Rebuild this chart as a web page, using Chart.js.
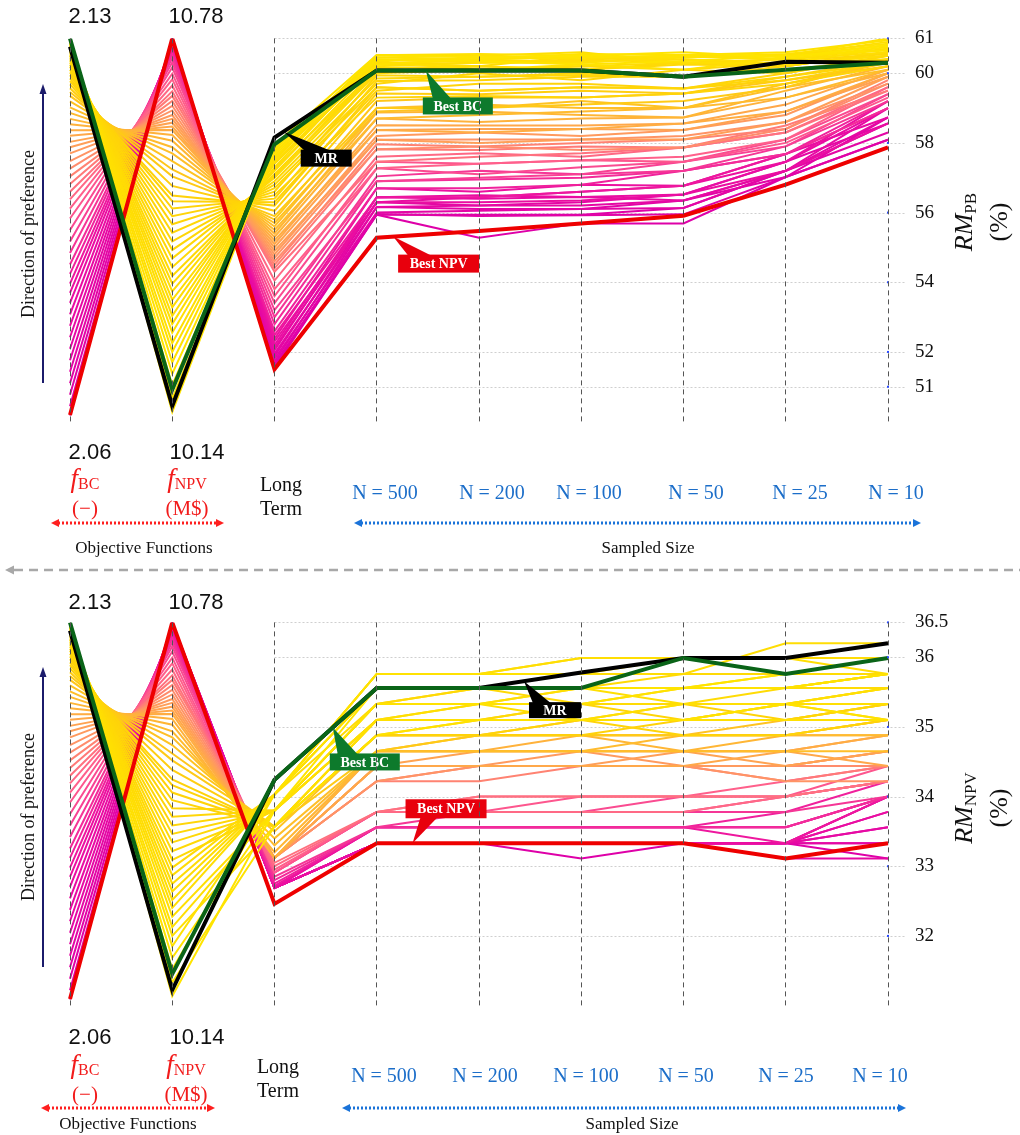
<!DOCTYPE html>
<html>
<head>
<meta charset="utf-8">
<script src="https://cdn.jsdelivr.net/npm/chart.js@4.4.1/dist/chart.umd.min.js"></script>
<style>
  body { margin: 0; background: #fff; }
  #page { position: relative; width: 1020px; height: 1135px; overflow: hidden; font-family: "Liberation Serif", "Times New Roman", serif; }
  .panel { position: absolute; left: 0; width: 1020px; height: 460px; }
  .t { position: absolute; white-space: nowrap; }
  .num { font-family: "Liberation Sans", Arial, sans-serif; font-size: 22px; color: #111; transform: translate(-50%, -50%); }
  .obj { color: #f21b1b; font-size: 21px; text-align: center; transform: translateX(-50%); line-height: 25px; }
  .obj i { font-size: 27px; }
  .obj sub { font-size: 16px; vertical-align: -2px; }
  .lt { font-size: 20px; text-align: center; transform: translateX(-50%); line-height: 24px; color: #111; }
  .nlab { color: #1c6ec9; font-size: 20px; transform: translate(-50%, -50%); }
  .grp { font-size: 17px; color: #111; transform: translate(-50%, -50%); }
  .dir { font-size: 18px; color: #111; transform: translate(-50%, -50%) rotate(-90deg); }
  .ytitle { width: 140px; text-align: center; line-height: 28px; font-size: 26px; color: #111; transform: translate(-50%, -50%) rotate(-90deg); }
  .ytitle sub { font-size: 17px; vertical-align: -4px; }
</style>
</head>
<body>
<div id="page">
  <div class="panel" style="top:0"><canvas id="pbChart" width="1020" height="460"></canvas></div>
  <div class="panel" style="top:584px"><canvas id="npvChart" width="1020" height="460"></canvas></div>

  <svg class="t" style="left:0;top:0" width="1020" height="1135">
    <!-- direction of preference arrows -->
    <line x1="43" y1="383" x2="43" y2="92" stroke="#1b1b6b" stroke-width="2"/>
    <polygon points="43,84 39.5,94 46.5,94" fill="#1b1b6b"/>
    <line x1="43" y1="967" x2="43" y2="675" stroke="#1b1b6b" stroke-width="2"/>
    <polygon points="43,667 39.5,677 46.5,677" fill="#1b1b6b"/>
    <!-- group arrows, top -->
    <line x1="58" y1="523" x2="217" y2="523" stroke="#ff1f1f" stroke-width="3" stroke-dasharray="2 2"/>
    <polygon points="51,523 59,519 59,527" fill="#ff1f1f"/>
    <polygon points="224,523 216,519 216,527" fill="#ff1f1f"/>
    <line x1="361" y1="523" x2="914" y2="523" stroke="#1a73d9" stroke-width="3" stroke-dasharray="2 2"/>
    <polygon points="354,523 362,519 362,527" fill="#1a73d9"/>
    <polygon points="921,523 913,519 913,527" fill="#1a73d9"/>
    <!-- group arrows, bottom -->
    <line x1="48" y1="1108" x2="208" y2="1108" stroke="#ff1f1f" stroke-width="3" stroke-dasharray="2 2"/>
    <polygon points="41,1108 49,1104 49,1112" fill="#ff1f1f"/>
    <polygon points="215,1108 207,1104 207,1112" fill="#ff1f1f"/>
    <line x1="349" y1="1108" x2="899" y2="1108" stroke="#1a73d9" stroke-width="3" stroke-dasharray="2 2"/>
    <polygon points="342,1108 350,1104 350,1112" fill="#1a73d9"/>
    <polygon points="906,1108 898,1104 898,1112" fill="#1a73d9"/>
    <!-- separator -->
    <line x1="14" y1="570" x2="1020" y2="570" stroke="#a8a8a8" stroke-width="2.5" stroke-dasharray="9 6"/>
    <polygon points="5,570 14,565.5 14,574.5" fill="#a8a8a8"/>
  </svg>

  <!-- top panel texts -->
  <div class="t num" style="left:90px;top:16px">2.13</div>
  <div class="t num" style="left:196px;top:16px">10.78</div>
  <div class="t num" style="left:90px;top:452px">2.06</div>
  <div class="t num" style="left:197px;top:452px">10.14</div>
  <div class="t obj" style="left:85px;top:466px"><i>f</i><sub>BC</sub><br>(&minus;)</div>
  <div class="t obj" style="left:187px;top:466px"><i>f</i><sub>NPV</sub><br>(M$)</div>
  <div class="t lt" style="left:281px;top:472px">Long<br>Term</div>
  <div class="t nlab" style="left:385px;top:492px">N = 500</div>
  <div class="t nlab" style="left:492px;top:492px">N = 200</div>
  <div class="t nlab" style="left:589px;top:492px">N = 100</div>
  <div class="t nlab" style="left:696px;top:492px">N = 50</div>
  <div class="t nlab" style="left:800px;top:492px">N = 25</div>
  <div class="t nlab" style="left:896px;top:492px">N = 10</div>
  <div class="t grp" style="left:144px;top:548px">Objective Functions</div>
  <div class="t grp" style="left:648px;top:548px">Sampled Size</div>
  <div class="t dir" style="left:28px;top:234px">Direction of preference</div>
  <div class="t ytitle" style="left:981px;top:222px"><i>RM</i><sub>PB</sub><br>(%)</div>

  <!-- bottom panel texts -->
  <div class="t num" style="left:90px;top:602px">2.13</div>
  <div class="t num" style="left:196px;top:602px">10.78</div>
  <div class="t num" style="left:90px;top:1037px">2.06</div>
  <div class="t num" style="left:197px;top:1037px">10.14</div>
  <div class="t obj" style="left:85px;top:1052px"><i>f</i><sub>BC</sub><br>(&minus;)</div>
  <div class="t obj" style="left:186px;top:1052px"><i>f</i><sub>NPV</sub><br>(M$)</div>
  <div class="t lt" style="left:278px;top:1054px">Long<br>Term</div>
  <div class="t nlab" style="left:384px;top:1075px">N = 500</div>
  <div class="t nlab" style="left:485px;top:1075px">N = 200</div>
  <div class="t nlab" style="left:586px;top:1075px">N = 100</div>
  <div class="t nlab" style="left:686px;top:1075px">N = 50</div>
  <div class="t nlab" style="left:786px;top:1075px">N = 25</div>
  <div class="t nlab" style="left:880px;top:1075px">N = 10</div>
  <div class="t grp" style="left:128px;top:1124px">Objective Functions</div>
  <div class="t grp" style="left:632px;top:1124px">Sampled Size</div>
  <div class="t dir" style="left:28px;top:817px">Direction of preference</div>
  <div class="t ytitle" style="left:981px;top:808px"><i>RM</i><sub>NPV</sub><br>(%)</div>
</div>

<script>
// parallel axes
const axisNames = ['f_BC', 'f_NPV', 'Long Term', 'N = 500', 'N = 200', 'N = 100', 'N = 50', 'N = 25', 'N = 10'];
const fbcRange = [2.06, 2.13];
const npvRange = [10.14, 10.78];
const pbRange = [50, 61];
const pbTicks = [51, 52, 54, 56, 58, 60, 61];
const rmNpvRange = [31, 36.5];
const rmNpvTicks = [32, 33, 34, 35, 36, 36.5];

// Pareto solutions (same set in both panels), ordered magenta -> yellow
const solutionFbc = [
  2.0611, 2.0628, 2.0649, 2.0670, 2.0691, 2.0712, 2.0733, 2.0754, 2.0775, 2.0796, 2.0817, 2.0835, 2.0852, 2.0870,
  2.0887, 2.0908, 2.0929, 2.0950, 2.0971, 2.0989, 2.1006, 2.1020,
  2.1034, 2.1048, 2.1062, 2.1076, 2.1090, 2.1101, 2.1111, 2.1122, 2.1132, 2.1143, 2.1153, 2.1164, 2.1174, 2.1185, 2.1195, 2.1202, 2.1209, 2.1216,
  2.1222, 2.1227, 2.1233, 2.1238, 2.1243, 2.1248, 2.1252, 2.1256, 2.1260, 2.1264, 2.1268, 2.1271,
  2.1275, 2.1278, 2.1280, 2.1283, 2.1286, 2.1289, 2.1291, 2.1293, 2.1295, 2.1297, 2.1298, 2.1299
];
const solutionNpv = [
  10.7797, 10.7794, 10.7790, 10.7787, 10.7774, 10.7762, 10.7749, 10.7730, 10.7710, 10.7691, 10.7666, 10.7640, 10.7608, 10.7576,
  10.7531, 10.7467, 10.7397, 10.7314, 10.7211, 10.7115, 10.7013, 10.6917,
  10.6840, 10.6757, 10.6674, 10.6597, 10.6520, 10.6456, 10.6392, 10.6328, 10.6270, 10.6187, 10.6091, 10.5982, 10.5880, 10.5752, 10.5611, 10.5496, 10.5336, 10.5176,
  10.5080, 10.4958, 10.4830, 10.4696, 10.4555, 10.4408, 10.4267, 10.4126, 10.3979, 10.3832, 10.3704, 10.3576,
  10.3435, 10.3307, 10.3166, 10.3032, 10.2885, 10.2712, 10.2565, 10.2392, 10.2200, 10.2008, 10.1784, 10.1560
];

// RM_PB (%) : Long Term, N=500, 200, 100, 50, 25, 10
const rmPbRows = [
  [51.55, 55.94, 55.28, 55.69, 55.69, 57.02, 58.09],
  [51.6, 55.94, 55.94, 55.94, 56.13, 57.2, 58.56],
  [51.65, 55.96, 55.9, 55.92, 55.95, 57.02, 58.09],
  [51.72, 56.16, 56.1, 56.1, 56.35, 57.02, 58.73],
  [51.8, 56.0, 56.05, 56.1, 56.13, 57.2, 58.3],
  [51.88, 56.3, 56.2, 56.3, 56.52, 57.46, 58.56],
  [51.95, 56.16, 56.2, 56.2, 56.35, 57.2, 58.73],
  [52.05, 56.44, 56.4, 56.45, 56.35, 57.2, 59.0],
  [52.12, 56.3, 56.44, 56.6, 56.77, 57.68, 58.73],
  [52.2, 56.44, 56.5, 56.45, 56.52, 57.46, 59.0],
  [52.3, 56.3, 56.3, 56.35, 56.52, 57.2, 58.56],
  [52.38, 56.7, 56.6, 56.8, 56.77, 57.46, 59.2],
  [52.48, 56.44, 56.44, 56.6, 56.77, 57.68, 59.0],
  [52.6, 56.7, 56.7, 56.8, 57.2, 57.68, 59.2],
  [52.8, 56.9, 56.95, 57.0, 57.2, 57.68, 59.0],
  [53.0, 57.04, 57.2, 57.1, 57.2, 57.9, 59.2],
  [53.2, 56.9, 57.0, 57.1, 57.46, 57.9, 59.4],
  [53.4, 57.27, 57.1, 57.3, 57.46, 58.1, 59.4],
  [53.6, 57.46, 57.4, 57.5, 57.46, 58.0, 59.3],
  [53.8, 57.27, 57.4, 57.5, 57.6, 58.1, 59.6],
  [54.05, 57.6, 57.7, 57.6, 57.87, 58.3, 59.6],
  [54.3, 57.46, 57.6, 57.7, 57.87, 58.3, 59.5],
  [54.4, 57.82, 57.8, 57.9, 57.87, 58.5, 59.5],
  [54.5, 57.96, 57.9, 58.0, 58.1, 58.4, 59.8],
  [54.6, 57.82, 57.9, 57.8, 57.87, 58.4, 59.7],
  [54.7, 58.09, 58.1, 58.1, 58.2, 58.6, 59.7],
  [54.8, 58.2, 58.3, 58.2, 58.37, 58.8, 60.0],
  [54.9, 58.09, 58.0, 58.1, 58.1, 58.6, 59.9],
  [55.0, 58.37, 58.4, 58.4, 58.37, 58.9, 59.9],
  [55.1, 58.51, 58.5, 58.5, 58.56, 59.1, 60.1],
  [55.2, 58.37, 58.3, 58.4, 58.56, 58.9, 60.0],
  [55.3, 58.7, 58.6, 58.7, 58.73, 59.3, 60.0],
  [55.4, 58.87, 58.9, 58.8, 58.73, 59.5, 60.2],
  [55.5, 58.7, 58.8, 58.9, 59.0, 59.3, 60.1],
  [55.6, 59.0, 59.1, 59.0, 59.0, 59.6, 60.1],
  [55.7, 58.9, 59.0, 59.2, 59.0, 59.7, 60.3],
  [55.8, 59.2, 59.3, 59.3, 59.42, 59.8, 60.2],
  [55.9, 59.0, 59.0, 59.1, 59.2, 59.6, 60.4],
  [56.05, 59.42, 59.4, 59.5, 59.42, 59.9, 60.4],
  [56.2, 59.6, 59.5, 59.6, 59.56, 59.8, 60.3],
  [56.3, 59.5, 59.7, 59.7, 59.56, 60.0, 60.5],
  [56.4, 59.78, 59.8, 59.9, 59.9, 60.1, 60.4],
  [56.5, 59.3, 59.35, 59.3, 59.42, 59.7, 60.2],
  [56.6, 59.94, 59.9, 60.0, 59.9, 60.2, 60.6],
  [56.7, 59.6, 59.5, 59.6, 59.56, 59.9, 60.3],
  [56.8, 59.7, 60.0, 59.8, 60.1, 60.0, 60.5],
  [56.9, 59.85, 59.9, 59.95, 59.9, 60.35, 60.55],
  [57.0, 60.0, 60.1, 60.2, 60.1, 60.3, 60.5],
  [57.05, 60.15, 60.2, 60.1, 60.3, 60.2, 60.6],
  [57.1, 60.05, 60.2, 60.1, 60.25, 60.2, 60.6],
  [57.2, 60.25, 60.3, 60.4, 60.3, 60.4, 60.7],
  [57.25, 60.1, 60.05, 60.2, 60.3, 60.3, 60.4],
  [57.3, 60.39, 60.4, 60.3, 60.52, 60.5, 60.8],
  [57.4, 60.3, 60.35, 60.35, 60.4, 60.25, 60.5],
  [57.45, 60.3, 60.2, 60.5, 60.3, 60.4, 60.6],
  [57.5, 60.52, 60.5, 60.4, 60.52, 60.5, 61.0],
  [57.55, 60.45, 60.5, 60.6, 60.3, 60.3, 60.7],
  [57.6, 60.2, 60.3, 60.3, 60.45, 60.5, 60.9],
  [57.65, 60.35, 60.1, 60.25, 60.1, 60.45, 60.8],
  [57.7, 60.52, 60.55, 60.5, 60.45, 60.55, 60.85],
  [57.75, 60.25, 60.4, 60.45, 60.5, 60.4, 60.75],
  [57.8, 60.45, 60.4, 60.55, 60.52, 60.6, 60.95],
  [57.85, 60.39, 60.35, 60.25, 60.35, 60.5, 60.65],
  [57.95, 60.52, 60.45, 60.5, 60.6, 60.45, 60.8]
];

// RM_NPV (%) : Long Term, N=500, 200, 100, 50, 25, 10
const rmNpvRows = [
  [32.69, 33.33, 33.33, 33.11, 33.33, 33.33, 33.11],
  [32.69, 33.33, 33.33, 33.33, 33.33, 33.33, 33.33],
  [32.69, 33.33, 33.33, 33.33, 33.33, 33.33, 33.56],
  [32.69, 33.33, 33.33, 33.33, 33.33, 33.33, 33.78],
  [32.69, 33.33, 33.33, 33.33, 33.33, 33.33, 34.0],
  [32.69, 33.33, 33.33, 33.33, 33.33, 33.33, 33.33],
  [32.69, 33.33, 33.33, 33.33, 33.33, 33.11, 33.11],
  [32.69, 33.33, 33.33, 33.33, 33.33, 33.33, 33.56],
  [32.69, 33.33, 33.33, 33.33, 33.33, 33.33, 34.0],
  [32.69, 33.56, 33.56, 33.56, 33.56, 33.56, 34.0],
  [32.69, 33.33, 33.33, 33.33, 33.33, 33.33, 33.78],
  [32.69, 33.56, 33.56, 33.56, 33.56, 33.56, 34.0],
  [32.72, 33.56, 33.56, 33.56, 33.56, 33.33, 34.0],
  [32.75, 33.56, 33.56, 33.56, 33.56, 33.78, 34.22],
  [32.8, 33.56, 33.56, 33.56, 33.56, 33.56, 34.0],
  [32.85, 33.56, 33.78, 33.78, 33.78, 33.78, 34.0],
  [32.91, 33.78, 33.78, 33.78, 33.78, 34.0, 34.22],
  [32.91, 33.78, 33.78, 33.78, 34.0, 34.0, 34.22],
  [32.91, 33.78, 33.78, 34.0, 34.0, 34.0, 34.44],
  [32.95, 33.78, 34.0, 34.0, 34.0, 34.22, 34.44],
  [33.0, 33.78, 33.78, 33.78, 33.78, 34.0, 34.22],
  [33.05, 33.78, 34.0, 34.0, 34.0, 34.0, 34.22],
  [33.12, 34.22, 34.44, 34.44, 34.44, 34.22, 34.44],
  [33.12, 34.22, 34.22, 34.44, 34.44, 34.44, 34.65],
  [33.12, 34.44, 34.44, 34.44, 34.44, 34.44, 34.44],
  [33.12, 34.22, 34.44, 34.44, 34.44, 34.22, 34.22],
  [33.12, 34.44, 34.44, 34.65, 34.44, 34.44, 34.65],
  [33.12, 34.44, 34.44, 34.44, 34.65, 34.65, 34.88],
  [33.12, 34.44, 34.65, 34.65, 34.65, 34.44, 34.65],
  [33.12, 34.44, 34.44, 34.44, 34.44, 34.65, 34.44],
  [33.12, 34.65, 34.65, 34.65, 34.65, 34.65, 34.88],
  [33.12, 34.65, 34.65, 34.88, 34.88, 34.88, 34.88],
  [33.2, 34.65, 34.88, 34.88, 34.65, 34.88, 35.1],
  [33.3, 34.65, 34.65, 34.65, 34.88, 34.88, 34.88],
  [33.4, 34.65, 34.65, 34.65, 34.65, 34.65, 34.65],
  [33.5, 34.88, 34.88, 34.88, 34.88, 35.1, 35.1],
  [33.57, 34.88, 34.88, 35.1, 35.1, 35.1, 35.33],
  [33.57, 34.65, 34.88, 34.88, 34.88, 34.88, 35.1],
  [33.57, 34.88, 35.1, 35.1, 35.1, 35.33, 35.1],
  [33.57, 34.88, 34.88, 34.88, 35.1, 35.1, 35.1],
  [33.57, 35.1, 35.1, 35.1, 35.33, 35.33, 35.33],
  [33.57, 35.1, 35.1, 35.33, 35.33, 35.1, 35.33],
  [33.57, 34.88, 34.88, 35.1, 34.88, 34.88, 35.1],
  [33.8, 35.1, 35.33, 35.33, 35.1, 35.33, 35.56],
  [33.8, 35.33, 35.33, 35.33, 35.33, 35.33, 35.33],
  [33.8, 35.1, 35.1, 35.1, 35.1, 35.1, 35.33],
  [33.8, 35.33, 35.33, 35.56, 35.56, 35.56, 35.56],
  [33.8, 35.33, 35.56, 35.56, 35.56, 35.56, 35.76],
  [33.8, 35.1, 35.1, 35.33, 35.33, 35.33, 35.56],
  [33.8, 35.33, 35.56, 35.33, 35.56, 35.56, 35.76],
  [34.03, 35.56, 35.56, 35.56, 35.76, 35.76, 35.99],
  [34.03, 35.33, 35.33, 35.33, 35.33, 35.56, 35.56],
  [34.03, 35.76, 35.76, 35.99, 35.99, 35.99, 35.99],
  [34.03, 35.56, 35.56, 35.56, 35.56, 35.76, 35.76],
  [34.03, 35.76, 35.76, 35.76, 35.76, 36.2, 36.2],
  [34.03, 35.76, 35.76, 35.99, 35.99, 35.99, 35.76],
  [33.8, 35.33, 35.33, 35.56, 35.33, 35.33, 35.56],
  [33.8, 35.1, 35.33, 35.1, 35.33, 35.33, 35.33],
  [33.57, 35.1, 35.1, 35.1, 35.1, 35.1, 35.1],
  [34.03, 35.56, 35.56, 35.56, 35.56, 35.56, 35.76],
  [33.8, 35.33, 35.33, 35.33, 35.56, 35.56, 35.76],
  [34.03, 35.76, 35.76, 35.76, 35.99, 35.76, 35.99],
  [33.57, 34.88, 35.1, 35.1, 35.1, 35.33, 35.1],
  [33.8, 35.56, 35.56, 35.56, 35.56, 35.76, 35.99]
];

// highlighted solutions: [f_BC, f_NPV]
const bestNpvObj = [2.0612, 10.78];
const bestBcObj = [2.13, 10.193];
const mrObj = [2.1285, 10.166];
const bestNpvPb = [51.5, 55.28, 55.47, 55.69, 55.91, 56.8, 57.87];
const bestBcPb = [57.96, 60.08, 60.08, 60.08, 59.9, 60.1, 60.3];
const mrPb = [58.15, 60.08, 60.08, 60.08, 59.9, 60.33, 60.3];
const bestNpvRmNpv = [32.46, 33.33, 33.33, 33.33, 33.33, 33.11, 33.33];
const bestBcRmNpv = [34.24, 35.56, 35.56, 35.56, 35.99, 35.76, 35.99];
const mrRmNpv = [34.24, 35.56, 35.56, 35.78, 35.99, 35.99, 36.2];

// colour ramp for the solution lines
const fanStops = [[0, [222, 0, 168]], [0.18, [236, 16, 160]], [0.3, [255, 95, 140]], [0.4, [255, 150, 100]],
  [0.52, [255, 186, 48]], [0.62, [255, 210, 10]], [1, [255, 228, 0]]];
function fanColor(k, n) {
  const f = k / (n - 1);
  for (let i = 1; i < fanStops.length; i++) {
    if (f <= fanStops[i][0]) {
      const [f0, c0] = fanStops[i - 1], [f1, c1] = fanStops[i];
      const t = (f - f0) / (f1 - f0);
      return 'rgb(' + c0.map((v, j) => Math.round(v + t * (c1[j] - v))).join(',') + ')';
    }
  }
  return 'rgb(255,228,0)';
}

// put an objective value on the panel's RM scale (parallel coordinates)
function onPanel(v, from, to) {
  return to[0] + (v - from[0]) / (from[1] - from[0]) * (to[1] - to[0]);
}
function lineData(obj, rm, range) {
  return [onPanel(obj[0], fbcRange, range), onPanel(obj[1], npvRange, range)].concat(rm);
}

const greenLine = '#0a6418', redLine = '#ee0000';

const panelDecor = {
  id: 'panelDecor',
  beforeDatasetsDraw(chart) {
    const { ctx, chartArea } = chart;
    const xs = chart.scales.x, ys = chart.scales.y;
    const x0 = xs.getPixelForValue(2);
    ctx.save();
    ctx.strokeStyle = '#cfcfcf';
    ctx.lineWidth = 1;
    ctx.setLineDash([2, 2]);
    chart.options.tickValues.forEach(v => {
      const y = Math.round(ys.getPixelForValue(v)) + 0.5;
      ctx.beginPath();
      ctx.moveTo(x0, y);
      ctx.lineTo(chartArea.right + 18, y);
      ctx.stroke();
    });
    ctx.restore();
  },
  afterDatasetsDraw(chart) {
    const { ctx } = chart;
    const xs = chart.scales.x, ys = chart.scales.y;
    ctx.save();
    ctx.fillStyle = '#2b4bff';
    const xr = xs.getPixelForValue(8);
    chart.options.tickValues.forEach(v => ctx.fillRect(xr - 1, ys.getPixelForValue(v) - 1, 2, 2));
    chart.options.callouts.forEach(c => {
      const ds = chart.data.datasets.find(d => d.label === c.series);
      const xa = xs.getPixelForValue(c.seg), xb = xs.getPixelForValue(c.seg + 1);
      const v = ds.data[c.seg] + c.f * (ds.data[c.seg + 1] - ds.data[c.seg]);
      const tx = xa + c.f * (xb - xa), ty = ys.getPixelForValue(v);
      const bx = tx + c.dx, by = ty + c.dy;
      const edge = c.dy > 0 ? by + 1 : by + c.h - 1;
      ctx.fillStyle = c.color;
      ctx.beginPath();
      ctx.moveTo(tx, ty);
      ctx.lineTo(bx + c.b0, edge);
      ctx.lineTo(bx + c.b1, edge);
      ctx.closePath();
      ctx.fill();
      ctx.fillRect(bx, by, c.w, c.h);
      ctx.fillStyle = '#fff';
      ctx.font = 'bold 14px "Liberation Serif"';
      ctx.textAlign = 'center';
      ctx.textBaseline = 'middle';
      ctx.fillText(c.label, bx + c.w / 2, by + c.h / 2 + 1);
    });
    ctx.restore();
  }
};

function buildPanel(id, rows, range, ticks, highlights, callouts) {
  const datasets = [];
  rows.forEach((rm, k) => {
    datasets.push({
      label: 'sol' + k,
      data: lineData([solutionFbc[k], solutionNpv[k]], rm, range),
      borderColor: fanColor(k, rows.length),
      borderWidth: 2,
      pointRadius: 0,
      order: 100 - k
    });
  });
  highlights.forEach((h, i) => {
    datasets.push({
      label: h.name,
      data: lineData(h.obj, h.rm, range),
      borderColor: h.color,
      borderWidth: 4,
      pointRadius: 0,
      order: i
    });
  });

  new Chart(document.getElementById(id), {
    type: 'line',
    data: { labels: axisNames, datasets: datasets },
    plugins: [panelDecor],
    options: {
      responsive: false,
      animation: false,
      events: [],
      tickValues: ticks,
      callouts: callouts,
      layout: { padding: { left: 70, right: 72, top: 35, bottom: 27 } },
      elements: { line: { tension: 0, borderJoinStyle: 'miter' } },
      plugins: { legend: { display: false }, tooltip: { enabled: false } },
      scales: {
        x: {
          type: 'category',
          grid: { color: '#555', lineWidth: 1, drawTicks: false, z: 1 },
          border: { display: false, dash: [5, 4] },
          ticks: { display: false }
        },
        y: {
          position: 'right',
          min: range[0],
          max: range[1],
          grid: { display: false, drawTicks: false },
          border: { display: false },
          afterBuildTicks: s => { s.ticks = ticks.map(v => ({ value: v })); },
          afterFit: s => { s.width = 60; },
          ticks: {
            padding: 27,
            autoSkip: false,
            color: '#111',
            font: { family: 'Liberation Serif', size: 19 },
            callback: v => String(v)
          }
        }
      }
    }
  });
}

buildPanel('pbChart', rmPbRows, pbRange, pbTicks, [
  { name: 'bestBc', obj: bestBcObj, rm: bestBcPb, color: greenLine },
  { name: 'mr', obj: mrObj, rm: mrPb, color: '#000' },
  { name: 'bestNpv', obj: bestNpvObj, rm: bestNpvPb, color: redLine }
], [
  { label: 'Best BC', series: 'bestBc', color: '#0d7a2c', seg: 3, f: 0.48, dx: -3, dy: 27, w: 70, h: 17, b0: 10, b1: 28 },
  { label: 'MR', series: 'mr', color: '#000', seg: 2, f: 0.09, dx: 17, dy: 18, w: 51, h: 17, b0: 4, b1: 30 },
  { label: 'Best NPV', series: 'bestNpv', color: '#e8000d', seg: 3, f: 0.16, dx: 5, dy: 18, w: 81, h: 18, b0: 10, b1: 33 }
]);

buildPanel('npvChart', rmNpvRows, rmNpvRange, rmNpvTicks, [
  { name: 'bestBc', obj: bestBcObj, rm: bestBcRmNpv, color: greenLine },
  { name: 'mr', obj: mrObj, rm: mrRmNpv, color: '#000' },
  { name: 'bestNpv', obj: bestNpvObj, rm: bestNpvRmNpv, color: redLine }
], [
  { label: 'Best BC', series: 'bestBc', color: '#0d7a2c', seg: 2, f: 0.57, dx: -3, dy: 26, w: 70, h: 17, b0: 8, b1: 28 },
  { label: 'MR', series: 'mr', color: '#000', seg: 4, f: 0.44, dx: 5, dy: 21, w: 52, h: 16, b0: 4, b1: 22 },
  { label: 'Best NPV', series: 'bestNpv', color: '#e8000d', seg: 3, f: 0.35, dx: -7, dy: -44, w: 81, h: 19, b0: 15, b1: 32 }
]);
</script>
</body>
</html>
